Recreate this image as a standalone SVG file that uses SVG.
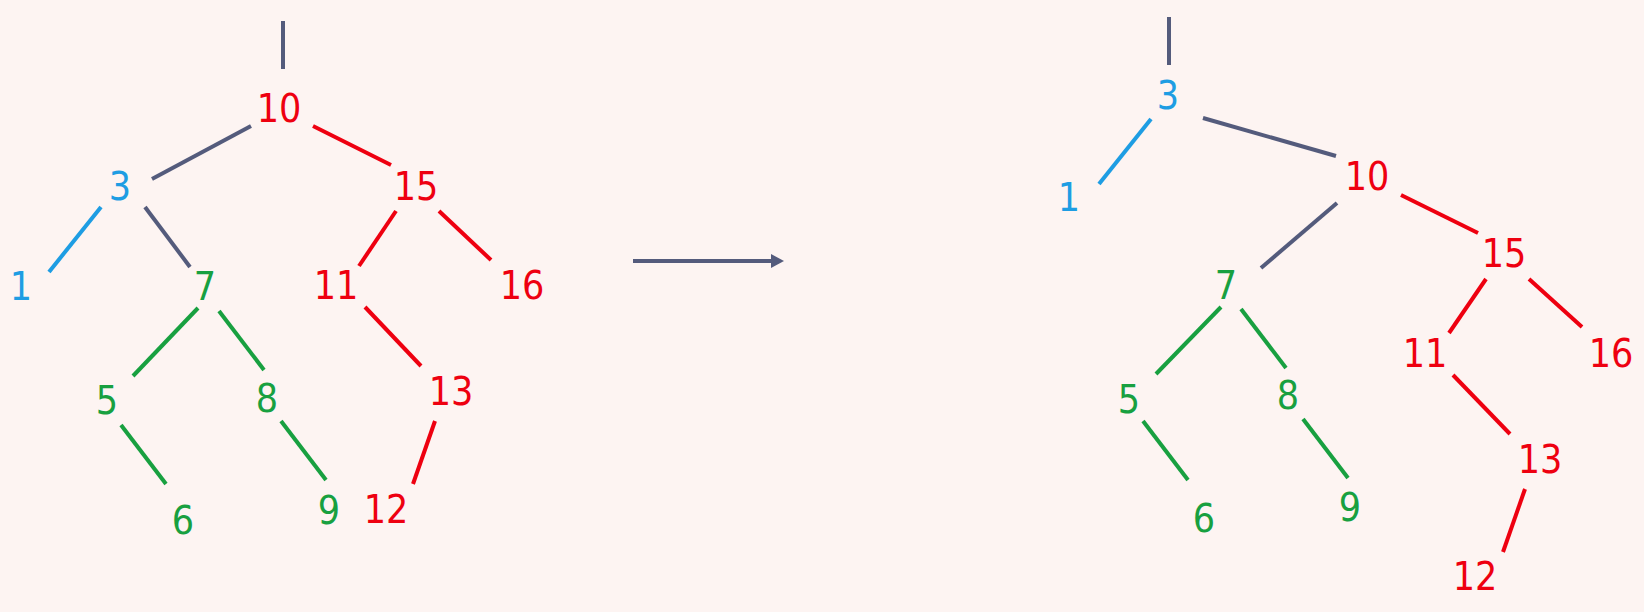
<svg xmlns="http://www.w3.org/2000/svg" width="1644" height="612" viewBox="0 0 1644 612">
<defs>
<style>
text{font-family:"DejaVu Sans Condensed","DejaVu Sans","Liberation Sans",sans-serif;font-stretch:condensed;font-size:39px;text-anchor:middle}
.r{fill:#ee0010}.b{fill:#1e9de3}.g{fill:#18a040}
line{stroke-width:4;stroke-linecap:butt}
.lr{stroke:#ee0010}.lb{stroke:#1e9de3}.lg{stroke:#18a040}.ls{stroke:#545b7c}
</style>
<marker id="ah" markerWidth="13" markerHeight="14" refX="0" refY="7" orient="auto" markerUnits="userSpaceOnUse">
<path d="M0,0 L13,7 L0,14 Z" fill="#545b7c"/>
</marker>
</defs>
<rect width="1644" height="612" fill="#fdf4f2"/>
<g id="connectors">
<line class="ls" x1="283" y1="21" x2="283" y2="69"/>
<line class="ls" x1="251" y1="126" x2="152" y2="179"/>
<line class="lr" x1="313" y1="126" x2="391" y2="165"/>
<line class="lb" x1="101" y1="207" x2="49" y2="272"/>
<line class="ls" x1="145" y1="207" x2="190" y2="267"/>
<line class="lr" x1="396" y1="211" x2="359" y2="266"/>
<line class="lr" x1="439" y1="211" x2="491" y2="260"/>
<line class="lg" x1="198" y1="308" x2="133" y2="376"/>
<line class="lg" x1="219" y1="311" x2="264" y2="370"/>
<line class="lr" x1="365" y1="307" x2="421" y2="366"/>
<line class="lg" x1="121" y1="425" x2="166" y2="484"/>
<line class="lg" x1="281" y1="421" x2="326" y2="480"/>
<line class="lr" x1="435" y1="421" x2="413" y2="484"/>
<line class="ls" x1="633" y1="261" x2="771" y2="261" marker-end="url(#ah)"/>
<line class="ls" x1="1169" y1="17" x2="1169" y2="65"/>
<line class="lb" x1="1151" y1="119" x2="1099" y2="184"/>
<line class="ls" x1="1203" y1="118" x2="1336" y2="156"/>
<line class="ls" x1="1337" y1="203" x2="1261" y2="268"/>
<line class="lr" x1="1401" y1="195" x2="1478" y2="233"/>
<line class="lr" x1="1486" y1="279" x2="1449" y2="333"/>
<line class="lr" x1="1529" y1="279" x2="1582" y2="327"/>
<line class="lg" x1="1221" y1="307" x2="1156" y2="374"/>
<line class="lg" x1="1241" y1="309" x2="1286" y2="368"/>
<line class="lr" x1="1453" y1="375" x2="1510" y2="434"/>
<line class="lg" x1="1143" y1="421" x2="1188" y2="480"/>
<line class="lg" x1="1303" y1="419" x2="1348" y2="478"/>
<line class="lr" x1="1525" y1="489" x2="1503" y2="552"/>
</g>
<g id="left-10"><text class="r" x="279" y="122">10</text></g>
<g id="left-3"><text class="b" x="120" y="200">3</text></g>
<g id="left-15"><text class="r" x="416" y="200">15</text></g>
<g id="left-1"><text class="b" x="21" y="300">1</text></g>
<g id="left-7"><text class="g" x="205" y="300">7</text></g>
<g id="left-11"><text class="r" x="336" y="299">11</text></g>
<g id="left-16"><text class="r" x="522" y="299">16</text></g>
<g id="left-5"><text class="g" x="107" y="414">5</text></g>
<g id="left-8"><text class="g" x="267" y="412">8</text></g>
<g id="left-13"><text class="r" x="451" y="405">13</text></g>
<g id="left-6"><text class="g" x="183" y="534">6</text></g>
<g id="left-9"><text class="g" x="329" y="524">9</text></g>
<g id="left-12"><text class="r" x="386" y="523">12</text></g>
<g id="right-3"><text class="b" x="1168" y="109">3</text></g>
<g id="right-1"><text class="b" x="1069" y="211">1</text></g>
<g id="right-10"><text class="r" x="1367" y="190">10</text></g>
<g id="right-7"><text class="g" x="1226" y="299">7</text></g>
<g id="right-15"><text class="r" x="1504" y="267">15</text></g>
<g id="right-11"><text class="r" x="1425" y="367">11</text></g>
<g id="right-16"><text class="r" x="1611" y="367">16</text></g>
<g id="right-5"><text class="g" x="1129" y="413">5</text></g>
<g id="right-8"><text class="g" x="1288" y="409">8</text></g>
<g id="right-13"><text class="r" x="1540" y="473">13</text></g>
<g id="right-6"><text class="g" x="1204" y="532">6</text></g>
<g id="right-9"><text class="g" x="1350" y="521">9</text></g>
<g id="right-12"><text class="r" x="1475" y="590">12</text></g>
</svg>
